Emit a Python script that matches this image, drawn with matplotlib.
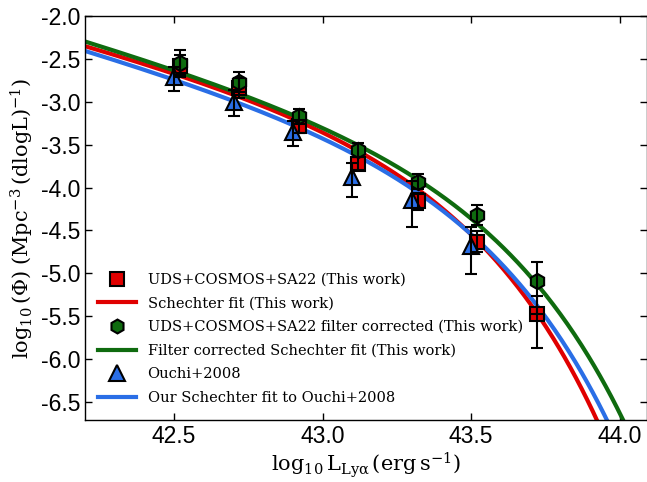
import numpy as np
import matplotlib
matplotlib.use('Agg')
import matplotlib.pyplot as plt
from matplotlib.lines import Line2D

# ---------------- data ----------------
lum_this = [42.52, 42.72, 42.92, 43.12, 43.32, 43.52, 43.72]
phi_this = [-2.58, -2.84, -3.28, -3.72, -4.16, -4.63, -5.47]
phi_this_err_lo = [0.13, 0.12, 0.08, 0.08, 0.10, 0.12, 0.40]
phi_this_err_hi = [0.13, 0.12, 0.07, 0.08, 0.10, 0.12, 0.21]

phi_corr = [-2.55, -2.77, -3.17, -3.56, -3.93, -4.32, -5.09]
phi_corr_err_lo = [0.14, 0.12, 0.09, 0.08, 0.09, 0.12, 0.38]
phi_corr_err_hi = [0.15, 0.12, 0.09, 0.08, 0.09, 0.12, 0.22]

lum_ouchi = [42.50, 42.70, 42.90, 43.10, 43.30, 43.50]
phi_ouchi = [-2.71, -3.00, -3.35, -3.88, -4.14, -4.68]
ouchi_err_lo = [0.17, 0.17, 0.16, 0.23, 0.32, 0.33]
ouchi_err_hi = [0.12, 0.14, 0.13, 0.17, 0.22, 0.22]

# Schechter parameters: (log L*, log Phi*, alpha)
fit_this = (43.104, -3.473, -1.90)
fit_corr = (43.224, -3.632, -1.99)
fit_ouchi = (43.172, -3.666, -1.97)

labels = ["UDS+COSMOS+SA22 (This work)",
          "Schechter fit (This work)",
          "UDS+COSMOS+SA22 filter corrected (This work)",
          "Filter corrected Schechter fit (This work)",
          "Ouchi+2008",
          "Our Schechter fit to Ouchi+2008"]

RED = '#e00000'
GREEN = '#0f6b0f'
BLUE = '#2a6ee6'


def schechter(logL, logLs, logphis, alpha):
    u = logL - logLs
    return np.log10(np.log(10)) + logphis + (alpha + 1) * u - 10 ** u / np.log(10)


plt.rcParams['axes.unicode_minus'] = False
plt.rcParams['mathtext.fontset'] = 'dejavuserif'

fig = plt.figure(figsize=(6.47, 4.82), dpi=100)
ax = fig.add_axes([85 / 647, 62 / 482, (646.5 - 85) / 647, (420 - 16) / 482])

xx = np.linspace(42.2, 44.1, 400)
ax.plot(xx, schechter(xx, *fit_this), color=RED, lw=3, zorder=2)
ax.plot(xx, schechter(xx, *fit_ouchi), color=BLUE, lw=3, zorder=2)
ax.plot(xx, schechter(xx, *fit_corr), color=GREEN, lw=3, zorder=2)

mk = dict(linestyle='none', markeredgecolor='black', markeredgewidth=1.5)
ax.plot(lum_this, phi_this, marker='s', markersize=10, color=RED, zorder=3, **mk)
ax.plot(lum_this, phi_corr, marker='h', markersize=11, color=GREEN, zorder=4, **mk)
ax.plot(lum_ouchi, phi_ouchi, marker='^', markersize=11, color=BLUE, zorder=4.5, **mk)

eb = dict(fmt='none', ecolor='black', elinewidth=1.5, capsize=4, capthick=1.5, zorder=6)
ax.errorbar(lum_this, phi_this, yerr=[phi_this_err_lo, phi_this_err_hi], **eb)
ax.errorbar(lum_this, phi_corr, yerr=[phi_corr_err_lo, phi_corr_err_hi], **eb)
ax.errorbar(lum_ouchi, phi_ouchi, yerr=[ouchi_err_lo, ouchi_err_hi], **eb)

ax.set_xlim(42.2, 44.09)
ax.set_ylim(-6.71, -2.0)
ax.set_xticks([42.5, 43.0, 43.5, 44.0])
ax.set_yticks(np.arange(-6.5, -1.99, 0.5))
ax.set_xticklabels(['42.5', '43.0', '43.5', '44.0'])
ax.set_yticklabels(['%.1f' % v for v in np.arange(-6.5, -1.99, 0.5)])
ax.tick_params(direction='in', top=True, right=True, length=5, width=1,
               labelsize=16.5)
ax.tick_params(axis='y', pad=3)
ax.tick_params(axis='x', pad=3.5)
for lab in ax.get_xticklabels() + ax.get_yticklabels():
    lab.set_family('Liberation Sans')
for s in ax.spines.values():
    s.set_linewidth(1.0)

ax.set_xlabel(r'$\mathrm{\log_{10}L_{Ly\alpha}\,(erg\,s^{-1})}$', fontsize=15, labelpad=2)
ax.set_ylabel(r'$\mathrm{\log_{10}(\Phi)\;(Mpc^{-3}\,(dlogL)^{-1})}$', fontsize=15, labelpad=4)

handles = [
    Line2D([], [], marker='s', markersize=10, color=RED, **mk),
    Line2D([], [], color=RED, lw=3),
    Line2D([], [], marker='h', markersize=10, color=GREEN, **mk),
    Line2D([], [], color=GREEN, lw=3),
    Line2D([], [], marker='^', markersize=11, color=BLUE, **mk),
    Line2D([], [], color=BLUE, lw=3),
]
leg = ax.legend(handles, labels, loc='lower left', frameon=False,
                bbox_to_anchor=(98 / 647, 77 / 482), bbox_transform=fig.transFigure,
                borderaxespad=0, borderpad=0, handlelength=2.6, handletextpad=0.8,
                labelspacing=0.66, numpoints=1,
                prop={'family': 'DejaVu Serif', 'size': 10.5})

fig.savefig('out.png', dpi=100)
